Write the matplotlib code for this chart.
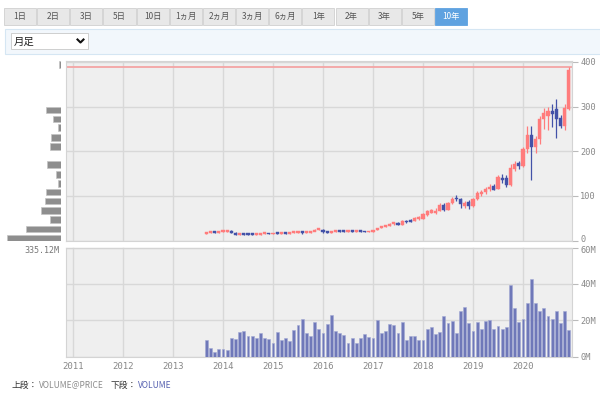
import numpy as np
import matplotlib.pyplot as plt
from matplotlib.patches import Rectangle
from matplotlib.transforms import ScaledTranslation

plt.rcParams['font.family'] = ['Noto Sans CJK JP', 'DejaVu Sans']

# period buttons and chart type
periods = ['1日', '2日', '3日', '5日', '10日', '1ヵ月', '2ヵ月', '3ヵ月', '6ヵ月',
           '1年', '2年', '3年', '5年', '10年']
active_period = '10年'
chart_type = '月足'

# monthly candles, Sep 2013 .. Dec 2020
first_year, first_month = 2013, 9
opens = [16, 18.5, 20, 18,
         19.5, 21, 22.5, 18, 14, 15, 14.5, 14, 13.5, 14, 15, 16,
         14.5, 16, 15, 16.5, 16, 17.5, 18.5, 19.5, 18, 18.2, 21, 24.5,
         24.5, 19.5, 18, 19.5, 23, 20.5, 19.5, 22.5, 21, 23, 20, 19,
         20.5, 23.5, 28.5, 32, 34.5, 38, 39.5, 36, 45, 44, 44.5, 49,
         49, 57, 63, 62.5, 67, 81, 70, 84, 95, 93, 79, 88,
         78, 93, 106, 109, 116, 122, 116, 142, 140, 126, 162, 174,
         168, 206, 237, 210, 228, 274, 280, 292, 296, 275, 258, 296]
highs = [20, 21, 20.5, 20.5,
         22, 23.5, 23, 18.5, 16, 16, 15.5, 15, 15, 15.5, 16.5, 16.5,
         16.5, 17, 17, 17.5, 18, 19, 20, 20.5, 19, 21.5, 25, 26,
         24.8, 20, 20, 23.5, 23.5, 22, 23, 23.5, 23.5, 23.5, 21.5, 21,
         24, 29, 33, 35, 39, 40.5, 42, 46, 47, 48, 52, 54,
         62, 68, 71, 72, 83, 84, 86, 98, 101, 96, 88, 91,
         95, 110, 114, 120, 126, 127, 147, 150, 146, 172, 178, 178,
         210, 257, 257, 235, 278, 296, 298, 306, 316, 281, 305, 388]
lows = [13.5, 17, 17, 17.5,
        18, 19, 17, 13, 12.5, 13, 13, 12.5, 12, 12.5, 14, 13.5,
        13.5, 14.5, 14.5, 15, 15.5, 16.5, 17, 15.5, 16.5, 17, 20.5, 22.5,
        17, 16, 16.5, 19, 19.5, 18, 19, 20, 20, 19, 18, 18.5,
        20, 23, 28, 31, 33.5, 35, 34.5, 35, 40, 41, 43, 47,
        48, 55, 61, 60, 66, 67, 68, 82, 88, 72, 72, 70,
        76, 90, 100, 104, 111, 112, 115, 128, 120, 121, 155, 160,
        164, 196, 135, 196, 216, 250, 248, 254, 230, 252, 248, 292]
closes = [19, 20, 18, 19.5,
          21, 22.5, 18, 14, 15, 14, 14, 13.5, 14.5, 15, 16, 14.5,
          16, 15, 16.5, 16, 17.5, 18.5, 19.5, 18, 18.2, 21, 24.5, 24.8,
          19.5, 18, 19.5, 23, 20.5, 19.5, 22.5, 21, 23, 20, 19, 20.5,
          23.5, 28.5, 32, 34.5, 38, 39.5, 36, 45, 41.5, 42.5, 50.5, 52.5,
          60, 66, 69, 67.5, 81, 69, 84, 94, 93, 83, 86, 78,
          93, 108, 110, 117, 120, 115, 143, 137, 126, 163, 173, 168,
          206, 237, 210, 228, 274, 286, 290, 284, 272, 257, 297, 382]
volumes = [9.0, 4.5, 2.6, 3.9,
           3.9, 3.6, 10.0, 9.4, 13.6, 14.2, 11.2, 11.2, 10.0, 13.2, 10.0, 9.4,
           7.6, 13.6, 9.0, 10.3, 8.7, 14.5, 17.3, 20.9, 13.2, 11.2, 18.9, 15.1,
           12.9, 18.0, 22.6, 14.2, 12.7, 11.8, 7.6, 10.3, 7.3, 10.1, 12.3, 10.9,
           10.3, 20.0, 13.2, 14.2, 18.0, 17.1, 13.2, 18.9, 9.0, 11.2, 11.2, 9.0,
           9.0, 14.9, 16.3, 12.3, 13.6, 22.2, 18.5, 19.8, 12.9, 24.8, 27.3, 18.5,
           13.8, 18.9, 15.1, 19.5, 20.1, 15.1, 16.7, 15.1, 16.0, 39.6, 26.6, 19.1,
           20.5, 29.5, 42.9, 29.5, 25.3, 26.6, 22.2, 20.9, 25.3, 18.5, 24.9, 14.7]

# volume at price (M)
vap_prices = [6, 26, 47, 67, 88, 109, 128, 148, 170, 211, 231, 253, 272, 292, 394]
vap_volumes = [335.12, 217, 68, 124, 99, 93, 19, 31, 87, 68, 62, 19, 50, 93, 12]

years = list(range(2011, 2021))
price_ticks = [0, 100, 200, 300, 400]
vol_ticks = [0, 20, 40, 60]

W, H = 600, 398
fig = plt.figure(figsize=(W / 100, H / 100), dpi=100)


def px_axes(x0, y0, x1, y1, **kw):
    return fig.add_axes([x0 / W, 1 - y1 / H, (x1 - x0) / W, (y1 - y0) / H], **kw)


def nudge(label, dy_px):
    label.set_transform(label.get_transform() + ScaledTranslation(0, dy_px / 100, fig.dpi_scale_trans))


# page furniture in pixel coords
ui = fig.add_axes([0, 0, 1, 1])
ui.set_xlim(0, W)
ui.set_ylim(H, 0)
ui.axis('off')

bw = 33.15
for i, p in enumerate(periods):
    x0 = 4 + i * bw
    on = p == active_period
    ui.add_patch(Rectangle((x0, 8), bw - 1, 16.5, fc='#5fa2e0' if on else '#e8e8e8',
                           ec='#5fa2e0' if on else '#d0d0d0', lw=0.6))
    ui.text(x0 + bw / 2 - 0.5, 16.5, p, ha='center', va='center', fontsize=6,
            color='white' if on else '#555555')

ui.add_patch(Rectangle((5, 28.5), 600, 25, fc='#f2f7fc', ec='#d5e6f3', lw=0.8))
ui.add_patch(Rectangle((10.5, 33), 77, 16, fc='white', ec='#c8c8c8', lw=0.6))
ui.text(14, 41.5, chart_type, fontsize=7.5, va='center', color='#222222')
ui.plot([77.5, 80.5, 83.5], [39.5, 42.5, 39.5], color='#111111', lw=1.5)

mono = 'DejaVu Sans Mono'
ui.text(59, 250.5, f'{max(vap_volumes):.2f}M', ha='right', va='center', fontsize=6,
        family=mono, color='#777777')

ui.text(12, 385, '上段：', fontsize=6.3, va='center', color='#333333')
ui.text(39, 385, 'VOLUME@PRICE', fontsize=6, va='center', color='#8a8a8a')
ui.text(111, 385, '下段：', fontsize=6.3, va='center', color='#333333')
ui.text(138, 385, 'VOLUME', fontsize=6, va='center', color='#5560b0')

# price panel
x = first_year + (first_month - 1) / 12 + np.arange(len(opens)) / 12
o, h, l, c = (np.array(a, dtype=float) for a in (opens, highs, lows, closes))
col = np.where(c >= o, '#ff7c7c', '#4352a8')

ax = px_axes(66, 61, 572, 240.5)
ax.set_facecolor('#efefef')
ax.set_xlim(2010.86, 2020.98)
ax.set_ylim(0, 402)
ax.set_xticks(years)
ax.tick_params(axis='x', length=0, labelbottom=False)
ax.yaxis.tick_right()
ax.set_yticks(price_ticks, [str(t) for t in price_ticks], fontfamily=mono,
              fontsize=6.2, color='#888888')
ax.tick_params(axis='y', length=4, color='#bbbbbb', pad=2)
nudge(ax.get_yticklabels()[0], 2.5)
ax.grid(color='#d8d8d8', lw=1)
ax.set_axisbelow(True)
for s in ax.spines.values():
    s.set_color('#d4d4d4')

ax.axhline(max(highs), color='#f4a4a4', lw=1.3, zorder=2)
ax.vlines(x, l, h, colors=col, lw=0.9, zorder=3)
ax.bar(x, np.maximum(np.abs(c - o), 4), bottom=np.minimum(o, c) - 1, width=0.065,
       color=col, edgecolor=col, lw=0.3, zorder=4)

# volume at price
axh = px_axes(5, 61, 61, 240.5)
axh.barh(vap_prices, vap_volumes, height=14.5, color='#8e8e8e', edgecolor='#c4c4c4', lw=0.5)
axh.set_xlim(max(vap_volumes) * 56 / 54, 0)
axh.set_ylim(0, 402)
axh.axis('off')

# volume panel
ax2 = px_axes(66, 247.5, 572, 356.5)
ax2.set_facecolor('#efefef')
ax2.set_xlim(2010.86, 2020.98)
ax2.set_ylim(0, 60)
ax2.bar(x, volumes, width=0.055, color='#6f78b9', edgecolor='#a3a9d4', lw=0.4, zorder=3)
ax2.set_xticks(years, [str(y) for y in years], fontfamily=mono, fontsize=6.5, color='#888888')
ax2.tick_params(axis='x', length=0, pad=4)
ax2.yaxis.tick_right()
ax2.set_yticks(vol_ticks, [f'{t}M' for t in vol_ticks], fontfamily=mono,
               fontsize=6.2, color='#888888')
ax2.tick_params(axis='y', length=4, color='#bbbbbb', pad=2)
nudge(ax2.get_yticklabels()[-1], -2.5)
ax2.grid(color='#d8d8d8', lw=1)
ax2.set_axisbelow(True)
for s in ax2.spines.values():
    s.set_color('#d4d4d4')

fig.savefig('out.png', dpi=100)
